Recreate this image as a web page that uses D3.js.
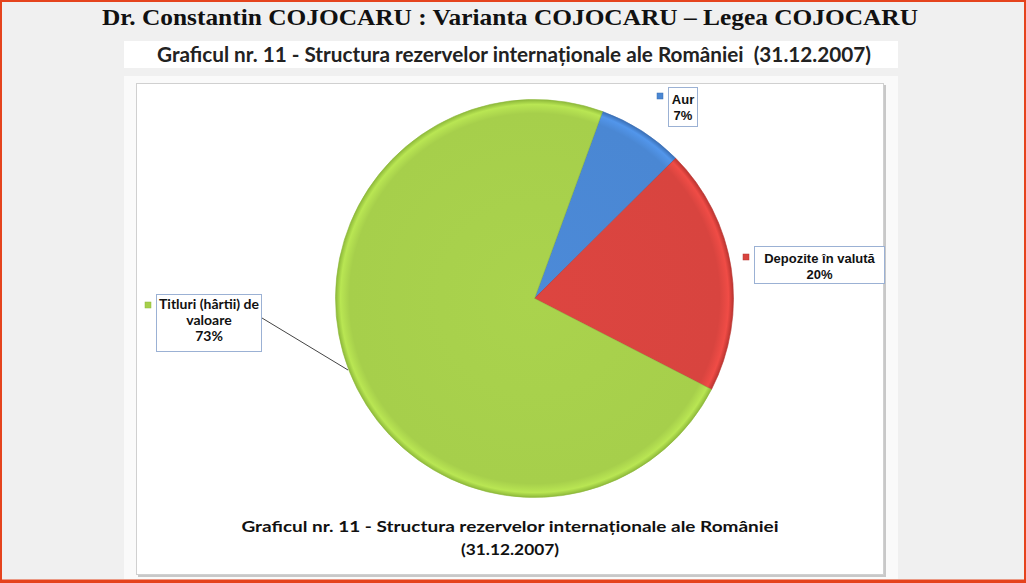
<!DOCTYPE html>
<html><head><meta charset="utf-8">
<script src="https://cdn.jsdelivr.net/npm/d3@7"></script>
<style>html,body{margin:0;padding:0;background:#f0f0f0;}svg{display:block;}</style>
</head><body>
<svg id="c" width="1026" height="583"></svg>
<script>
const categories = ["Aur", "Depozite în valută", "Titluri (hârtii) de valoare"];
const values = [7, 20, 73];
const percentLabels = ["7%", "20%", "73%"];
const colors = ["#4a87d3", "#d8443f", "#a6cf4b"];
const darkColors = ["#3a6fb5", "#b93430", "#8db83a"];
const mainTitle = "Dr. Constantin COJOCARU : Varianta COJOCARU – Legea COJOCARU";
const subTitle = "Graficul nr. 11 - Structura rezervelor internaționale ale României\u00a0 (31.12.2007)";
const chartTitle = ["Graficul nr. 11 - Structura rezervelor internaționale ale României", "(31.12.2007)"];

const svg = d3.select("#c");
const W = 1026, H = 583;
svg.append("rect").attr("width", W).attr("height", H).attr("fill", "#f0f0f0");

// main title
svg.append("text").attr("x", 510).attr("y", 25).attr("text-anchor", "middle")
  .attr("font-family", "Liberation Serif, serif").attr("font-weight", "bold").attr("font-size", 23)
  .attr("textLength", 816).attr("lengthAdjust", "spacingAndGlyphs").attr("fill", "#111")
  .text(mainTitle);

// subtitle box
svg.append("rect").attr("x", 124).attr("y", 41).attr("width", 774).attr("height", 27).attr("fill", "#fff");
svg.append("text").attr("x", 514).attr("y", 62).attr("text-anchor", "middle")
  .attr("font-family", "Lato, sans-serif").attr("font-weight", "bold").attr("font-size", 20)
  .attr("textLength", 714).attr("lengthAdjust", "spacingAndGlyphs").attr("fill", "#222")
  .text(subTitle);

// outer panel
svg.append("rect").attr("x", 124).attr("y", 76).attr("width", 774).attr("height", 503).attr("fill", "#fafafa");
// chart box shadow + box
svg.append("rect").attr("x", 138).attr("y", 85).attr("width", 748).attr("height", 492).attr("fill", "#c8c8c8");
svg.append("rect").attr("x", 136.5).attr("y", 83.5).attr("width", 747).attr("height", 491)
  .attr("fill", "#fff").attr("stroke", "#d0d0d0").attr("stroke-width", 1);

// red border
svg.append("rect").attr("x", 1).attr("y", 1).attr("width", W - 2).attr("height", H - 2)
  .attr("fill", "none").attr("stroke", "#e5431d").attr("stroke-width", 2);
svg.append("line").attr("x1", 0).attr("x2", W).attr("y1", 581).attr("y2", 581)
  .attr("stroke", "#e5431d").attr("stroke-width", 3);

// pie geometry
const cx = 534.5, cy = 298.5, R = 199;

// gradients (in the pie group's own coordinates)
const defs = svg.append("defs");
colors.forEach((c, i) => {
  const g = defs.append("radialGradient").attr("id", "g" + i)
    .attr("gradientUnits", "userSpaceOnUse").attr("cx", 0).attr("cy", 0).attr("r", R);
  g.append("stop").attr("offset", "0%").attr("stop-color", d3.color(c).brighter(0.06).formatHex());
  g.append("stop").attr("offset", "93%").attr("stop-color", c);
  g.append("stop").attr("offset", "97.5%").attr("stop-color", d3.color(c).brighter(0.3).formatHex());
  g.append("stop").attr("offset", "100%").attr("stop-color", darkColors[i]);
});

const pie = d3.pie().sort(null).value(d => d).startAngle(20 * Math.PI / 180).endAngle(20 * Math.PI / 180 + 2 * Math.PI);
const arcs = pie(values);
const arc = d3.arc().innerRadius(0).outerRadius(R);
const gp = svg.append("g").attr("transform", `translate(${cx},${cy})`);
gp.selectAll("path").data(arcs).join("path")
  .attr("d", arc).attr("fill", (d, i) => `url(#g${i})`)
  .attr("stroke", (d, i) => darkColors[i]).attr("stroke-width", 0.6);

// leader line for Titluri
svg.append("line").attr("x1", 262).attr("y1", 318)
  .attr("x2", 348).attr("y2", 370)
  .attr("stroke", "#444").attr("stroke-width", 1);

// labels
const labelBoxes = [
  {x: 668, y: 87, w: 29, h: 39, lines: ["Aur", percentLabels[0]], font: "Liberation Sans, Arial, sans-serif", fs: 13, lh: 16, first: 104},
  {x: 754, y: 246, w: 130, h: 37, lines: ["Depozite în valută", percentLabels[1]], font: "Liberation Sans, Arial, sans-serif", fs: 13, lh: 15.5, first: 263},
  {x: 156, y: 294, w: 105, h: 57, lines: ["Titluri (hârtii) de", "valoare", percentLabels[2]], font: "Lato, sans-serif", fs: 14, lh: 16, first: 309}
];
labelBoxes.forEach((b, i) => {
  svg.append("rect").attr("x", b.x + 0.5).attr("y", b.y + 0.5).attr("width", b.w).attr("height", b.h)
    .attr("fill", "#fff").attr("stroke", "#9bb1d4").attr("stroke-width", 1);
  svg.append("rect").attr("x", b.x - 11).attr("y", b.y + (i === 0 ? 6 : 8)).attr("width", 6).attr("height", 6)
    .attr("fill", colors[i]).attr("stroke", darkColors[i]).attr("stroke-width", 0.5);
  const t = svg.append("text").attr("text-anchor", "middle").attr("font-family", b.font)
    .attr("font-weight", "bold").attr("font-size", b.fs).attr("fill", "#111");
  b.lines.forEach((l, j) => {
    t.append("tspan").attr("x", b.x + b.w / 2 + 0.5).attr("y", b.first + j * b.lh).text(l);
  });
});

// chart title bottom
chartTitle.forEach((l, j) => {
  svg.append("text").attr("x", 510).attr("y", 532 + j * 23).attr("text-anchor", "middle")
    .attr("font-family", "Lato, sans-serif").attr("font-weight", "bold").attr("font-size", 16)
    .attr("fill", "#111")
    .attr("textLength", j === 0 ? 537 : 98).attr("lengthAdjust", "spacingAndGlyphs")
    .text(l);
});
</script>
</body></html>
